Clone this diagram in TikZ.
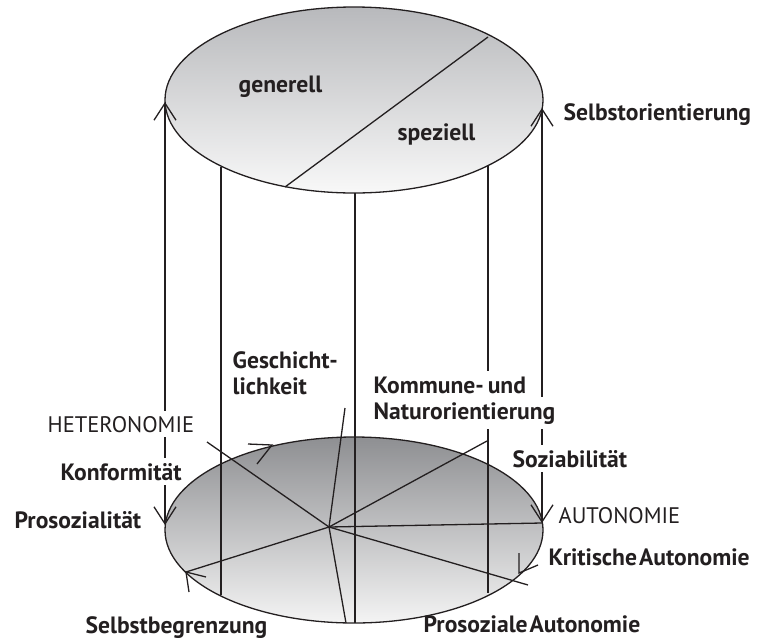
\documentclass[tikz,border=0pt]{standalone}
\usepackage{fontspec}
\setmainfont{PT Sans}
\usetikzlibrary{arrows.meta}

\definecolor{ink}{HTML}{231F20}
\definecolor{upperdark}{HTML}{B8B9BC}
\definecolor{upperlight}{HTML}{F8F8F8}
\definecolor{lowerdark}{HTML}{8E8F92}
\definecolor{lowerlight}{HTML}{F4F4F4}

\tikzset{
  lbl/.style={font=\bfseries\fontsize{23.6}{26}\selectfont, inner sep=0pt, text=ink},
  caps/.style={font=\fontsize{22.5}{26}\selectfont, inner sep=0pt, text=ink},
  cut/.style={fill=white, inner ysep=5pt},
}

\begin{document}
\begin{tikzpicture}[x=1pt, y=-1pt, line width=1.3pt, draw=ink,
  >={Straight Barb[length=17pt,width=22pt]}]
\useasboundingbox (0,0) rectangle (771,638);
% centres of the two discs and the hub of the lower one
\coordinate (up) at (354,100);
\coordinate (low) at (354,530);
\coordinate (hub) at (329,527);
% discs
\draw[top color=upperdark, bottom color=upperlight] (up) ellipse [x radius=189pt, y radius=93pt];
\draw[top color=lowerdark, bottom color=lowerlight] (low) ellipse [x radius=189pt, y radius=93pt];
% split of the upper disc
\coordinate (splitA) at (488,37);
\coordinate (splitB) at (285,187);
\draw (splitA) -- (splitB);
% walls of the cylinder
\draw (221,167) -- (221,595);
\draw (355,193) -- (355,623);
\draw (488,166) -- (488,593);
\draw[<->] (165,525) -- (165,102);
\draw[<->] (542,523) -- (542,108);
% rays out of the hub
\coordinate (hetero) at (207,442);
\coordinate (hist) at (345,408);
\coordinate (natur) at (487,441);
\coordinate (auto) at (542,523);
\coordinate (krit) at (528,585);
\coordinate (prosauto) at (346,623);
\coordinate (begr) at (186,572);
\foreach \p in {hetero,hist,natur,auto,krit,prosauto,begr}
  \draw (hub) -- (\p);
% arrow heads on the rim
\draw (248,444) -- (272,445) -- (257,464);
\draw (206,577) -- (begr) -- (189,592);
\draw (519,553) -- (519,573) -- (538,565);
% upper disc
\node[lbl, anchor=base west] (gen) at (238,92) {generell};
\node[lbl, anchor=base west] (spez) at (397,140) {speziell};
\node[lbl, anchor=base west] (selbst) at (563,120) {Selbstorientierung};
% middle
\node[lbl, anchor=base west, align=left] (gesch) at (232,394) {Geschicht-\\lichkeit};
\node[lbl, cut, anchor=base west] (komm) at (373,393) {Kommune-\,und};
\node[lbl, cut, anchor=base west] (natorient) at (373,419) {Naturorientierung};
\node[caps, cut, anchor=base west] (heteronomie) at (47,432) {HETERONOMIE};
\node[lbl, cut, anchor=base west] (konf) at (60,480) {Konformität};
\node[lbl, anchor=base west] (prosoz) at (14,528) {Prosozialität};
\node[lbl, cut, anchor=base west] (soz) at (512,467) {Soziabilität};
\node[caps, anchor=base west] (autonomie) at (558,523) {AUTONOMIE};
% lower disc
\node[lbl, anchor=base west] (kritaut) at (548,565) {Kritische\hspace{2pt}Autonomie};
\node[lbl, anchor=base west] (prosaut) at (423,632) {Prosoziale\hspace{2pt}Autonomie};
\node[lbl, anchor=base west] (selbstbeg) at (85,633) {Selbstbegrenzung};
\end{tikzpicture}
\end{document}
